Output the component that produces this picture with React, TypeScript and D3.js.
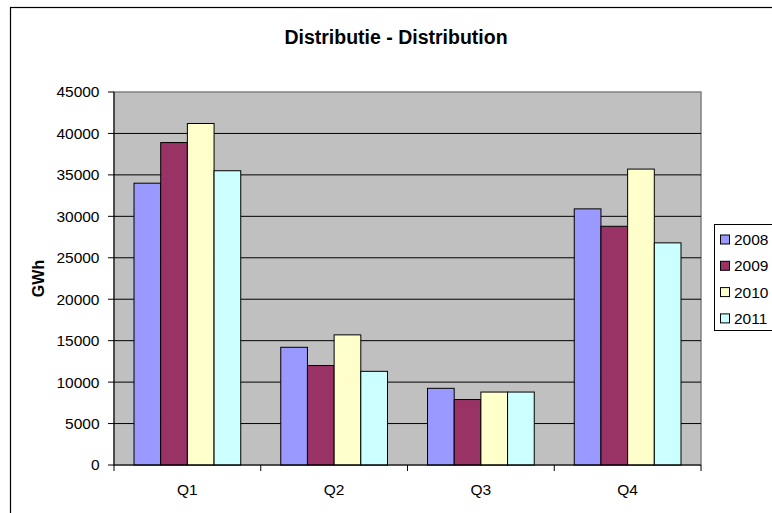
import React from "react";
import * as d3 from "d3";

const categories = ["Q1", "Q2", "Q3", "Q4"];
const seriesNames = ["2008", "2009", "2010", "2011"];
const values2008 = [34000, 14200, 9250, 30900];
const values2009 = [38900, 12000, 7900, 28800];
const values2010 = [41200, 15700, 8800, 35700];
const values2011 = [35500, 11300, 8800, 26800];
const yTicks = [0, 5000, 10000, 15000, 20000, 25000, 30000, 35000, 40000, 45000];
const colors = ["#9999FF", "#993366", "#FFFFCC", "#CCFFFF"];

const seriesValues = [values2008, values2009, values2010, values2011];

export default function App() {
  const W = 772, H = 513;
  const left = 114, right = 701, top = 92, bottom = 465;
  const x = d3.scaleBand<string>().domain(categories).range([left, right]).padding(0);
  const xi = d3.scaleBand<string>().domain(seriesNames).range([0, x.bandwidth()]).paddingInner(0).paddingOuter(0.75);
  const y = d3.scaleLinear().domain([0, 45000]).range([bottom, top]);
  const font = "'Liberation Sans', Arial, sans-serif";
  const fs = 15.5;
  return (
    <svg width={W} height={H} style={{ position: "absolute", left: 0, top: 0 }} fontFamily={font}>
      <rect x={0} y={0} width={W} height={H} fill="#fff" />
      <rect x={10.5} y={7.5} width={W + 10} height={H + 10} fill="#fff" stroke="#000" strokeWidth={1.2} />
      <text x={396} y={44} textAnchor="middle" fontWeight="bold" fontSize={19.5}>Distributie - Distribution</text>
      <rect x={left} y={top} width={right - left} height={bottom - top} fill="#C0C0C0" stroke="#808080" strokeWidth={1.5} />
      {yTicks.map((t) => (
        <g key={t}>
          {t > 0 && t < 45000 && (
            <line x1={left} x2={right} y1={y(t)} y2={y(t)} stroke="#000" strokeWidth={1} />
          )}
          <line x1={left - 6} x2={left} y1={y(t)} y2={y(t)} stroke="#000" strokeWidth={1} />
          <text x={99.5} y={y(t)} dy="0.35em" textAnchor="end" fontSize={fs}>{t}</text>
        </g>
      ))}
      {categories.map((c, ci) =>
        seriesNames.map((s, si) => {
          const v = seriesValues[si][ci];
          return (
            <rect key={c + s} x={(x(c) as number) + (xi(s) as number)} y={y(v)} width={xi.bandwidth()} height={bottom - y(v)}
              fill={colors[si]} stroke="#000" strokeWidth={1} />
          );
        })
      )}
      <line x1={left} x2={left} y1={top} y2={bottom} stroke="#000" strokeWidth={1} />
      <line x1={left} x2={right} y1={bottom} y2={bottom} stroke="#000" strokeWidth={1} />
      {[...categories.map((c) => x(c) as number), right].map((px, i) => (
        <line key={i} x1={px} x2={px} y1={bottom} y2={bottom + 6} stroke="#000" strokeWidth={1} />
      ))}
      {categories.map((c) => (
        <text key={c} x={(x(c) as number) + x.bandwidth() / 2} y={495} textAnchor="middle" fontSize={fs}>{c}</text>
      ))}
      <text transform="translate(43.5,278.5) rotate(-90)" textAnchor="middle" fontWeight="bold" fontSize={16}>GWh</text>
      <rect x={714.5} y={224.5} width={70} height={106} fill="#fff" stroke="#000" strokeWidth={1} />
      {seriesNames.map((s, i) => (
        <g key={s}>
          <rect x={720.5} y={235 + i * 26.3} width={9} height={9} fill={colors[i]} stroke="#000" strokeWidth={1} />
          <text x={734} y={239.5 + i * 26.3} dy="0.36em" fontSize={fs}>{s}</text>
        </g>
      ))}
    </svg>
  );
}
